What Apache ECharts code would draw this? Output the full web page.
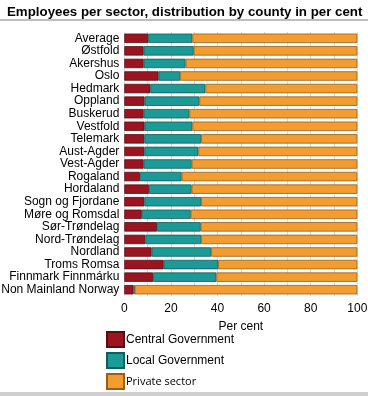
<!DOCTYPE html>
<html>
<head>
<meta charset="utf-8">
<script src="https://cdn.jsdelivr.net/npm/echarts@6/dist/echarts.min.js"></script>
<style>
html,body{margin:0;padding:0;background:#fff;}
#c{width:368px;height:396px;}
</style>
</head>
<body>
<div id="c"></div>
<script>
var categories = ["Average","Østfold","Akershus","Oslo","Hedmark","Oppland","Buskerud","Vestfold","Telemark","Aust-Agder","Vest-Agder","Rogaland","Hordaland","Sogn og Fjordane","Møre og Romsdal","Sør-Trøndelag","Nord-Trøndelag","Nordland","Troms Romsa","Finnmark Finnmárku","Non Mainland Norway"];
var centralGov = [10.3,8.3,8.3,14.7,11.2,8.7,8.3,8.7,8.6,8.6,8.3,6.7,10.6,8.6,7.5,14.0,9.0,11.7,16.9,12.4,3.9];
var localGov   = [18.9,21.5,18.0,9.3,23.6,23.5,19.6,20.5,24.4,23.2,20.6,17.9,18.3,24.4,21.0,18.8,24.0,25.6,23.4,27.1,0.6];
var privateSec = [70.8,70.2,73.7,76.0,65.2,67.8,72.1,70.8,67.0,68.2,71.1,75.4,71.1,67.0,71.5,67.2,67.0,62.7,59.7,60.5,95.5];
var xTicks = [0,20,40,60,80,100];

var chart = echarts.init(document.getElementById('c'), null, {renderer:'canvas'});
function s(name, data, color, border){
  return {name:name, type:'bar', stack:'t', data:data, barWidth:'75%',
    itemStyle:{color:color, borderColor:border, borderWidth:0.8}, emphasis:{disabled:true}};
}
chart.setOption({
  animation:false,
  title:{text:'Employees per sector, distribution by county in per cent', left:2, top:1,
    textStyle:{fontFamily:'Liberation Sans, Arial', fontSize:13.3, fontWeight:'bold', color:'#000'}},
  graphic:[
    {type:'rect', shape:{x:0,y:19,width:368,height:2}, style:{fill:'#bdbdbd'}},
    {type:'rect', shape:{x:0,y:392,width:368,height:4}, style:{fill:'#cfcfcf'}}
  ],
  grid:{left:124.3, right:10.7, top:32, bottom:100, containLabel:false, outerBoundsMode:'none'},
  xAxis:{type:'value', min:0, max:100, interval:10,
    name:'Per cent', nameLocation:'middle', nameGap:25,
    nameTextStyle:{fontFamily:'Liberation Sans, Arial', fontSize:12, color:'#000'},
    axisLine:{show:false}, axisTick:{show:false},
    axisLabel:{fontFamily:'Liberation Sans, Arial', fontSize:12, color:'#000', margin:7,
      formatter:function(v){ return xTicks.indexOf(v) >= 0 ? String(v) : ''; }},
    splitLine:{show:true, lineStyle:{color:'#d9d9d9', width:1}}},
  yAxis:{type:'category', data:categories, inverse:true,
    axisLine:{show:false}, axisTick:{show:false},
    axisLabel:{interval:0, fontFamily:'Liberation Sans, Arial', fontSize:12, color:'#000', margin:5}},
  legend:{orient:'vertical', left:106, top:331, height:64, padding:0, itemWidth:17, itemHeight:15, itemGap:4,
    icon:'rect', selectedMode:false,
    textStyle:{fontFamily:'Liberation Sans, Arial', fontSize:12, color:'#000', padding:[0,0,0,-3]},
    data:[
      {name:'Central Government'},
      {name:'Local Government'},
      {name:'Private sector', textStyle:{fontFamily:'Open Sans', fontSize:11}}
    ]},
  series:[
    s('Central Government', centralGov, '#9a1520', '#5a0c12'),
    s('Local Government', localGov, '#1b9a97', '#0e5e5c'),
    s('Private sector', privateSec, '#f39c2f', '#9a5e16')
  ]
});
</script>
</body>
</html>
